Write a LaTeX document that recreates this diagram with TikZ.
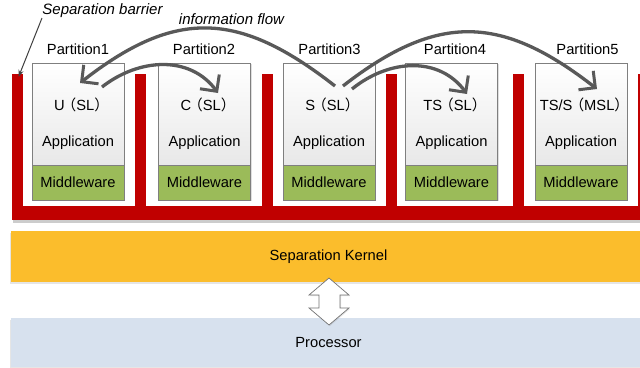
\documentclass[tikz,border=0pt]{standalone}
\usepackage{fontspec}
\setmainfont{Liberation Sans}
\newfontfamily\cjk{Noto Sans CJK SC}
\usetikzlibrary{arrows.meta,shadows}
\definecolor{barred}{HTML}{C00000}
\definecolor{mwgreen}{HTML}{9BBB59}
\definecolor{kernelc}{HTML}{FBBD2C}
\definecolor{procc}{HTML}{D7E1EE}
\definecolor{flowc}{HTML}{595959}
\definecolor{boxline}{HTML}{7F7F7F}
\newcommand\fwlp{\kern-3pt{\cjk （}}
\newcommand\fwrp{{\cjk ）}}
\newcommand\mypart[5]{%
  \node[appbox] (app#1) at (#2,114) {};
  \node[mwbox] (mw#1) at (#2,182.5) {Middleware};
  \node[lbl] (lev#1) at (#2+3.5,105) {#3};
  \node[lbl] (apl#1) at (#2,143) {Application};
  \node[lbl] (pt#1) at (#4,49) {Partition#1};
}
\begin{document}
\begin{tikzpicture}[x=1pt,y=-1pt,
  txt/.style={font=\fontsize{14.7}{17}\selectfont, inner sep=0pt},
  lbl/.style={txt, text=black},
  itl/.style={font=\fontsize{15}{18}\selectfont\itshape, inner sep=0pt},
  appbox/.style={draw=boxline, line width=0.8pt, top color=white, bottom color=black!9,
     minimum width=92pt, minimum height=102pt, inner sep=0pt,
     drop shadow={shadow xshift=1pt, shadow yshift=-1pt, opacity=.25}},
  mwbox/.style={txt, draw=boxline, line width=0.8pt, fill=mwgreen,
     minimum width=92pt, minimum height=35pt,
     drop shadow={shadow xshift=1pt, shadow yshift=-1pt, opacity=.25}},
  layer/.style={txt, minimum width=635pt, inner sep=0pt,
     drop shadow={shadow xshift=-1pt, shadow yshift=-1.5pt, opacity=.2}},
  flowarrow/.style={draw=flowc, line width=3.3pt, -{Straight Barb[length=12pt,width=24pt,line width=3pt]}},
]
\useasboundingbox (0,0) rectangle (640,367);
\fill[white] (0,0) rectangle (640,367);

% separation barrier (comb)
\fill[black!20] (13,220) rectangle (646,222.5);
\foreach \bx in {12,135,262,386,513,638}{
  \fill[barred] (\bx,74) rectangle ++(11,146);
}
\fill[barred] (12,206) rectangle (646,220);
\coordinate (bartop) at (18.5,77);

% partitions
\mypart{1}{78}{U\fwlp SL\fwrp}{78}{}
\mypart{2}{204.5}{C\fwlp SL\fwrp}{204}{}
\mypart{3}{329}{S\fwlp SL\fwrp}{329.5}{}
\mypart{4}{451.5}{TS\fwlp SL\fwrp}{455}{}
\mypart{5}{581}{TS/S\fwlp MSL\fwrp}{587.5}{}

% kernel and processor
\node[layer, fill=kernelc, minimum height=51pt] (kern) at (328.5,256.5) {Separation Kernel};
\node[layer, fill=procc, minimum height=49pt] (proc) at (328.5,342.5) {Processor};

% double arrow between kernel and processor
\draw[draw=black!55, fill=white, line width=0.7pt,
  drop shadow={shadow xshift=1pt, shadow yshift=-1pt, opacity=.2}]
  (329,278) -- (349,295) -- (340,295) -- (340,308) -- (349,308) -- (329,325)
  -- (309,308) -- (319,308) -- (319,295) -- (309,295) -- cycle;

% labels
\node[itl] (sepbar) at (102.5,11) {Separation barrier};
\node[itl] (flowlbl) at (231.5,19) {information flow};
\coordinate (sbstart) at (42,18);
\draw[draw=black!75, line width=1pt, -{Stealth[length=7pt,width=5pt]}] (sbstart) -- (bartop);

% information flows
\coordinate (sA) at (335,86);
\coordinate (uT) at (80,83);
\coordinate (uS) at (102,87);
\coordinate (cT) at (218,93);
\coordinate (sB) at (352,89);
\coordinate (tsT) at (467,94);
\coordinate (sC) at (343,86);
\coordinate (msT) at (597,89);
\draw[flowarrow] (sA) .. controls +(-96,-75) and +(96,-75) .. (uT);
\draw[flowarrow] (uS) .. controls +(37,-29) and +(-28,-38) .. (cT);
\draw[flowarrow] (sB) .. controls +(37,-30) and +(-28,-38) .. (tsT);
\draw[flowarrow] (sC) .. controls +(95,-74) and +(-95,-74) .. (msT);
\end{tikzpicture}
\end{document}
